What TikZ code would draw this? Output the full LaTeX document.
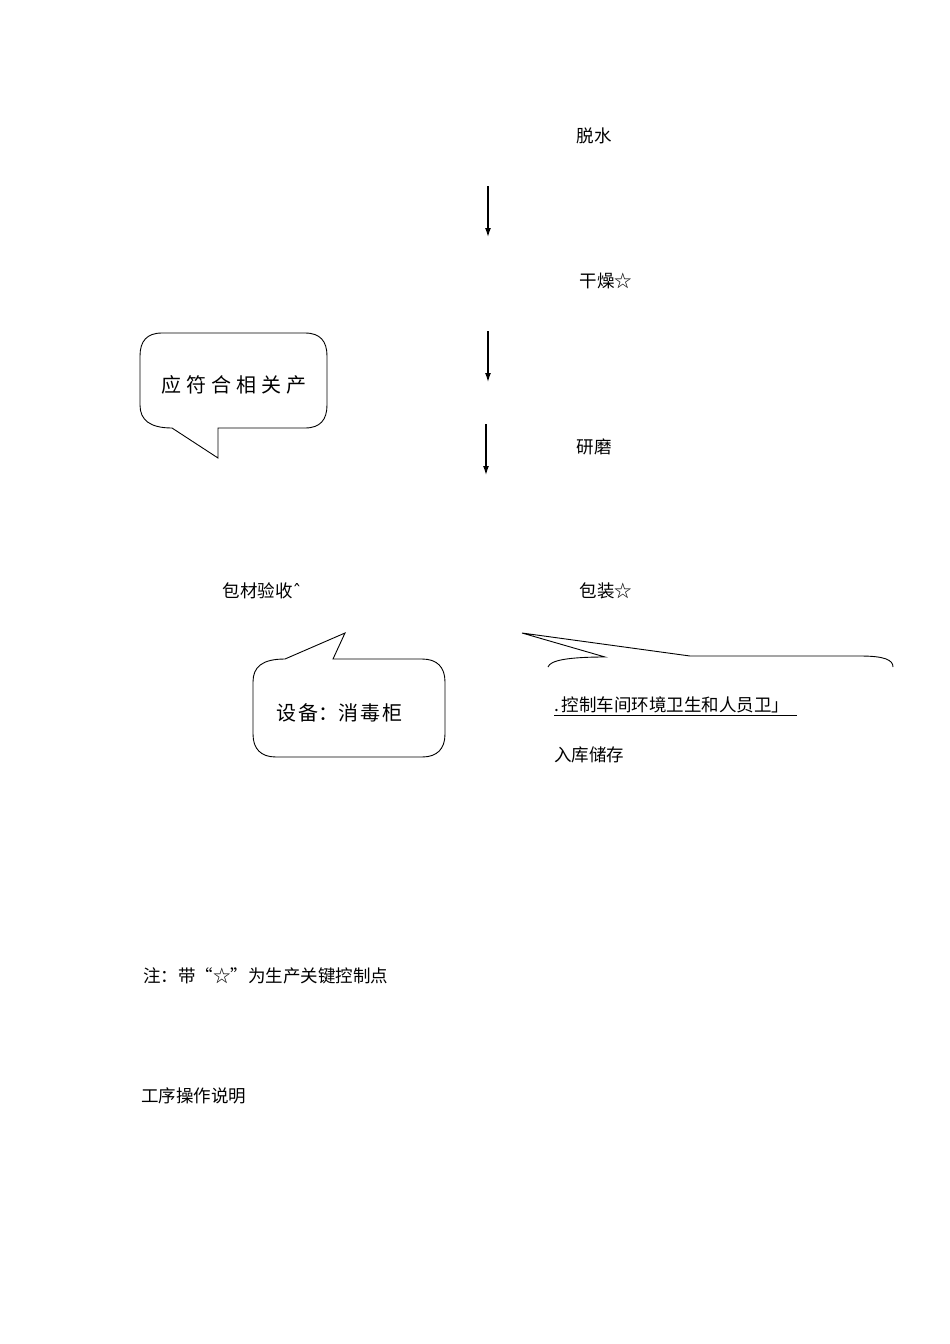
\documentclass[tikz,border=0pt]{standalone}
\usepackage{fontspec}
\usetikzlibrary{arrows.meta}
\setmainfont{Noto Sans CJK SC}
\newfontfamily\cjk{Noto Sans CJK SC}
\newfontfamily\djv{DejaVu Sans}
\begin{document}
\begin{tikzpicture}[x=1pt,y=-1pt,
  lbl/.style={font=\cjk\fontsize{17.5}{20}\selectfont,inner sep=0pt},
  bub/.style={font=\cjk\fontsize{20}{22}\selectfont,inner sep=0pt},
  arr/.style={-{Latex[length=9pt,width=6pt]},line width=1.3pt},
  shp/.style={line width=0.9pt,line join=miter}]
\useasboundingbox (0,0) rectangle (950,1344);
\fill[white] (0,0) rectangle (950,1344);
\node[lbl] (tuoshui) at (594,136) {脱水};
\node[lbl] (ganzao) at (606,281) {干燥☆};
\node[lbl] (yanmo) at (594,447) {研磨};
\node[lbl] (bcys) at (262,591) {包材验收{\djv ˆ}};
\node[lbl] (baozhuang) at (606,591) {包装☆};
\node[lbl,anchor=west] (kongzhi) at (554,705) {.\,控制车间环境卫生和人员卫」};
\draw[line width=0.7pt] (kongzhi.south west)++(0,1.5) -- ++(243,0);
\node[lbl,anchor=west] (ruku) at (554,755) {入库储存};
\node[lbl,anchor=west] (zhu) at (143,976) {注：带“☆”为生产关键控制点};
\node[lbl,anchor=west] (gongxu) at (141,1096) {工序操作说明};
\coordinate (a1) at (488,186); \coordinate (a1e) at (488,237);
\coordinate (a2) at (488,331); \coordinate (a2e) at (488,382);
\coordinate (a3) at (486,424); \coordinate (a3e) at (486,475);
\draw[arr] (a1) -- (a1e);
\draw[arr] (a2) -- (a2e);
\draw[arr] (a3) -- (a3e);
% bubble 1
\draw[shp] (172,428) -- (218,458) -- (218,428) -- (305,428)
  .. controls (320,428) and (327,420) .. (327,405) -- (327,356)
  .. controls (327,341) and (320,333) .. (305,333) -- (162,333)
  .. controls (147,333) and (140,341) .. (140,356) -- (140,405)
  .. controls (140,420) and (150,428) .. (172,428);
\node[bub] (b1) at (234,385) {应\hspace{5pt}符\hspace{5pt}合\hspace{5pt}相\hspace{5pt}关\hspace{5pt}产};
% bubble 2
\draw[shp] (285,659) -- (345,633) -- (333,659) -- (422,659)
  .. controls (437,659) and (445,667) .. (445,682) -- (445,734)
  .. controls (445,749) and (437,757) .. (422,757) -- (276,757)
  .. controls (261,757) and (253,749) .. (253,734) -- (253,682)
  .. controls (253,667) and (262,659) .. (285,659);
\node[bub] (b2) at (339,713) {设\hspace{2pt}备：消\hspace{2pt}毒\hspace{2pt}柜};
% third shape
\draw[shp] (548,667) .. controls (550,660) and (570,657) .. (605,657) -- (522,633) -- (690,656) -- (860,656)
  .. controls (885,656) and (893,660) .. (893,667);
\end{tikzpicture}
\end{document}
